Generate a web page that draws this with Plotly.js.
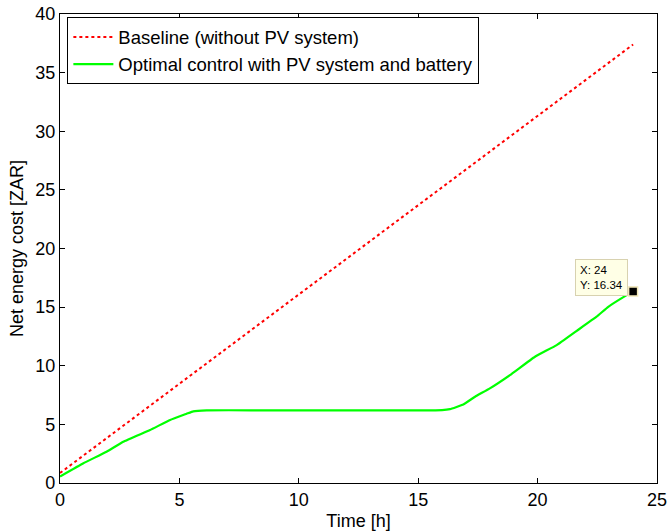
<!DOCTYPE html>
<html>
<head>
<meta charset="utf-8">
<script src="https://cdn.plot.ly/plotly-3.0.1.min.js"></script>
<style>html,body{margin:0;padding:0;background:#fff}#chart{width:669px;height:532px}</style>
</head>
<body>
<div id="chart"></div>
<script>
// Baseline (without PV system) – cumulative cost [ZAR]
var baselineTime = [0, 2, 4, 6, 8, 10, 12, 14, 16, 18, 20, 22, 24];
var baselineCost = [0.85, 3.9, 6.95, 10.0, 13.05, 16.1, 19.15, 22.2, 25.25, 28.3, 31.3, 34.35, 37.4];

// Optimal control with PV system and battery
var optimalTime = [0, 0.98, 1.95, 2.65, 3.77, 4.61, 5.3, 5.58, 6.14, 8, 10, 12, 14, 15.08, 16.0, 16.33, 16.89, 17.38, 18.0, 18.84, 19.89, 20.8, 21.64, 22.47, 22.96, 23.66, 24];
var optimalCost = [0.55, 1.68, 2.67, 3.52, 4.52, 5.37, 5.9, 6.11, 6.2, 6.2, 6.2, 6.2, 6.2, 6.2, 6.22, 6.3, 6.7, 7.36, 8.07, 9.2, 10.77, 11.76, 12.98, 14.18, 15.03, 15.94, 16.34];

// Data tip
var tipX = 24;
var tipY = 16.34;

var xTicks = [0, 5, 10, 15, 20, 25];
var yTicks = [0, 5, 10, 15, 20, 25, 30, 35, 40];

var FONT = 'Liberation Sans, Arial, sans-serif';

var traces = [
  {x: baselineTime, y: baselineCost, mode: 'lines', name: 'Baseline (without PV system)',
   line: {color: '#ff0000', width: 2, dash: 'dot'}},
  {x: optimalTime, y: optimalCost, mode: 'lines', name: 'Optimal control with PV system and battery',
   line: {color: '#00ff00', width: 2.2, shape: 'spline', smoothing: 0.3}},
  {x: [tipX], y: [tipY], mode: 'markers', showlegend: false,
   marker: {symbol: 'square', size: 9, color: '#000000', line: {color: '#f2e8b8', width: 1.5}}}
];

var axisCommon = {
  showline: true, linecolor: '#000', linewidth: 1.2, mirror: 'allticks',
  ticks: 'inside', ticklen: 5, tickcolor: '#000', tickwidth: 1,
  showgrid: false, zeroline: false, tickfont: {family: FONT, size: 18, color: '#000'},
  fixedrange: true
};

var layout = {
  width: 669, height: 532,
  margin: {l: 60, r: 12, t: 14, b: 49},
  paper_bgcolor: '#fff', plot_bgcolor: '#fff',
  font: {family: FONT, color: '#000'},
  xaxis: Object.assign({}, axisCommon, {
    range: [0, 25], tickvals: xTicks, ticktext: xTicks.map(String),
    title: {text: 'Time [h]', font: {family: FONT, size: 18}, standoff: 5}
  }),
  yaxis: Object.assign({}, axisCommon, {
    range: [0, 40], tickvals: yTicks, ticktext: yTicks.map(String),
    title: {text: 'Net energy cost [ZAR]', font: {family: FONT, size: 18}, standoff: 6}
  }),
  legend: {
    x: 0.012, y: 0.993, xanchor: 'left', yanchor: 'top',
    bgcolor: '#fff', bordercolor: '#000', borderwidth: 1.2,
    font: {family: FONT, size: 18.5, color: '#000'},
    tracegroupgap: 0, itemwidth: 40
  },
  annotations: [{
    x: tipX, y: tipY, xref: 'x', yref: 'y',
    text: 'X: ' + tipX + '<br>Y: ' + tipY,
    showarrow: false, xanchor: 'right', yanchor: 'bottom',
    xshift: -5, yshift: -5, align: 'left',
    font: {family: FONT, size: 11.5, color: '#000'},
    bgcolor: '#ffffe6', bordercolor: '#d8d2b0', borderwidth: 1, borderpad: 4
  }],
  showlegend: true
};

Plotly.newPlot('chart', traces, layout, {displayModeBar: false, staticPlot: true});
</script>
</body>
</html>
